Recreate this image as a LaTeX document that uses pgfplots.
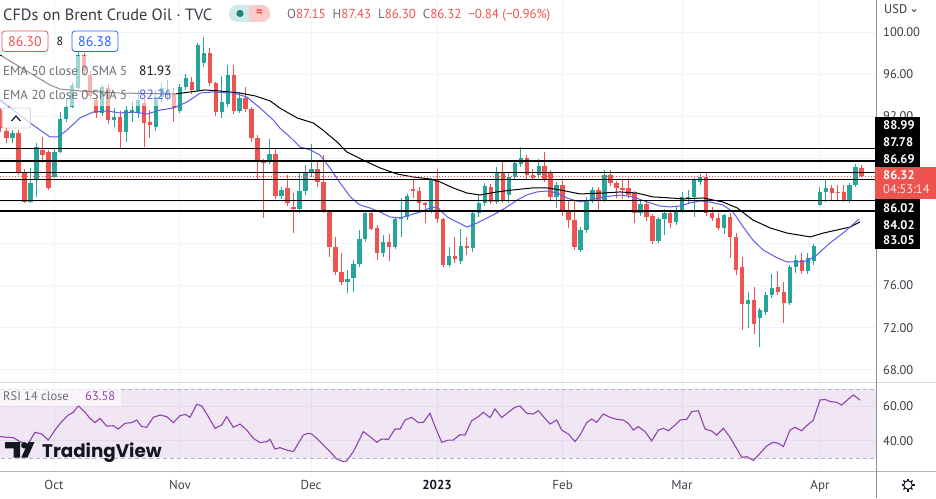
\documentclass[border=0pt]{standalone}
\usepackage{fontspec}
\setmainfont{PT Sans}
\newfontfamily\logofont{Poppins}
\usepackage{pgfplots}
\usepackage{pgfplotstable}
\pgfplotsset{compat=1.18}
\definecolor{upc}{HTML}{26A69A}
\definecolor{dnc}{HTML}{EF5350}
\definecolor{gridc}{HTML}{F0F3FA}
\definecolor{txt}{HTML}{131722}
\definecolor{gtxt}{HTML}{6A6D78}
\definecolor{emab}{RGB}{92,92,238}
\definecolor{bluet}{HTML}{2962FF}
\definecolor{rsic}{RGB}{142,68,173}
\definecolor{sepc}{HTML}{B2B5BE}

\pgfplotstableread{
i o h l c
-7 89.93 90.72 89.45 90.40
-4 83.93 87.09 83.80 85.67
-3 85.98 89.45 84.40 89.14
0 86.30 88.98 86.20 88.66
1 88.66 92.39 88.50 91.73
2 91.73 93.71 91.50 92.93
3 92.93 95.29 92.77 94.98
4 94.66 98.30 94.50 97.82
8 92.33 95.00 92.00 94.79
10 91.67 92.80 91.00 91.95
12 90.53 93.00 89.61 92.61
13 92.30 93.50 91.50 92.60
14 92.30 94.50 91.90 93.56
17 91.03 94.50 90.60 93.87
18 93.87 95.20 93.40 94.67
19 94.00 95.50 93.50 94.40
21 92.52 95.10 92.30 94.82
22 94.82 96.00 94.50 95.61
24 94.50 98.95 94.30 98.77
25 97.03 99.55 96.70 97.98
28 92.39 95.80 91.90 93.34
29 93.21 96.87 92.90 95.93
31 92.52 94.30 92.30 93.72
36 87.78 89.86 87.50 88.41
38 84.50 85.30 84.20 85.04
41 83.20 86.62 82.90 84.94
42 84.94 87.41 84.60 86.62
43 86.62 89.40 86.30 87.03
49 76.36 77.46 75.25 76.60
50 76.74 78.40 75.41 77.99
51 77.99 81.25 77.70 80.40
52 80.40 83.14 80.10 82.83
55 79.10 80.77 78.72 80.08
57 79.67 82.35 79.40 82.26
58 82.26 84.25 80.62 82.45
59 82.45 84.66 82.20 84.47
63 83.15 86.14 82.90 85.99
66 77.94 79.67 77.72 78.79
68 78.31 81.30 78.00 79.73
70 79.52 83.00 79.20 82.83
71 82.83 84.56 82.50 83.84
72 83.84 85.70 83.50 85.42
74 83.93 87.25 83.70 86.71
76 84.56 86.60 83.84 86.30
77 86.30 87.88 86.00 87.63
78 87.54 89.08 87.20 88.04
81 86.46 87.97 86.20 87.31
84 84.34 85.80 83.30 85.51
88 79.35 81.50 79.20 81.25
89 81.25 84.41 81.00 84.09
90 84.09 85.35 83.80 85.04
92 84.09 86.93 83.90 86.46
98 82.89 84.00 82.60 83.68
101 80.24 82.50 80.00 82.26
102 82.26 83.20 80.78 82.89
104 82.04 83.40 81.70 83.14
105 83.14 84.88 82.90 84.41
106 84.24 85.04 83.77 84.40
107 84.34 86.20 82.45 85.98
108 85.83 86.52 85.50 86.30
112 81.41 82.80 80.84 82.67
116 74.21 75.41 71.94 74.62
118 72.88 73.83 70.14 73.67
119 73.51 75.41 73.20 75.10
120 75.10 77.08 74.80 75.79
123 74.37 77.90 74.10 77.78
124 77.78 78.88 77.15 78.36
126 77.40 79.04 77.10 78.57
127 78.35 79.92 77.90 79.74
128 83.62 85.35 83.52 84.88
129 84.88 85.99 83.93 85.20
133 84.09 85.70 83.84 85.51
134 85.51 87.50 85.30 87.25
}\up

\pgfplotstableread{
i o h l c
-9 92.61 92.77 90.56 90.87
-8 90.62 91.03 89.45 89.93
-6 90.40 90.72 86.46 86.77
-5 86.77 87.00 83.77 83.87
-2 88.82 90.08 87.56 88.35
-1 88.66 88.82 85.03 85.19
5 97.82 98.00 95.80 96.30
6 95.90 96.30 93.60 93.90
7 93.60 94.00 91.90 92.30
9 94.70 95.10 91.30 91.67
11 91.95 92.50 89.00 90.53
15 93.30 93.70 89.10 91.35
16 91.50 92.60 90.00 91.20
20 94.19 94.70 91.50 92.77
23 95.29 95.70 94.10 94.50
26 97.98 98.50 94.90 95.14
27 95.14 95.30 92.00 92.39
30 95.93 96.87 92.20 92.52
32 93.72 94.80 92.40 92.71
33 92.71 92.90 89.60 89.99
34 89.99 90.20 86.00 87.78
35 87.78 88.00 82.42 87.65
37 88.41 88.98 84.20 84.50
39 85.19 86.50 83.50 83.77
40 83.46 84.72 80.93 83.20
44 87.03 87.88 85.35 85.83
45 85.83 88.35 82.83 82.99
46 82.99 83.10 78.72 79.60
47 79.60 80.62 76.99 77.30
48 77.30 79.04 76.04 76.36
53 82.83 82.99 81.25 81.34
54 81.41 81.72 78.41 79.10
56 80.08 80.87 78.31 79.67
60 85.10 85.98 84.25 84.97
61 84.97 85.35 82.99 83.78
62 83.78 83.90 81.94 83.68
64 85.99 86.99 81.88 82.26
65 82.26 82.40 77.78 77.94
67 78.79 80.62 78.16 78.47
69 79.73 80.62 78.88 79.52
73 85.35 85.60 83.70 83.93
75 86.71 87.88 83.80 84.03
79 88.04 88.35 86.08 86.46
80 86.46 86.99 85.98 86.20
82 87.31 88.67 85.80 86.05
83 86.62 86.90 84.00 84.34
85 85.51 86.14 82.60 82.92
86 82.92 84.09 81.40 82.20
87 82.20 84.09 79.40 79.67
91 85.04 85.30 83.14 84.09
93 86.46 86.93 85.40 85.73
94 85.73 85.90 84.25 85.20
95 85.20 86.05 84.15 85.04
96 85.20 86.14 84.30 84.56
97 84.72 84.90 81.88 82.89
99 83.68 83.90 82.10 82.45
100 82.57 82.80 79.90 80.24
103 82.89 83.10 81.40 81.94
109 86.30 86.77 82.60 82.83
110 82.83 83.46 82.10 82.42
111 82.42 82.89 81.25 81.41
113 82.45 82.83 78.57 80.62
114 80.62 80.94 76.99 77.46
115 77.70 78.66 71.78 74.21
117 74.62 75.88 71.40 72.35
121 75.88 77.40 75.10 75.35
122 75.35 76.36 72.41 74.37
125 78.41 79.04 77.10 77.40
130 85.20 85.51 84.09 84.72
131 84.88 85.51 84.09 84.79
132 84.88 85.51 83.90 84.09
135 87.15 87.43 86.30 86.32
}\dn

\begin{document}
\begin{tikzpicture}
\path[use as bounding box, fill=white] (0pt,0pt) rectangle (936pt,498pt);

% ---------------- price pane ----------------
\begin{axis}[at={(0pt,116pt)}, anchor=south west, scale only axis,
  width=876pt, height=382pt,
  xmin=-9.08, xmax=137.4, ymin=66.85, ymax=103.03,
  axis line style={draw=none}, major tick length=0pt,
  xtick={0,21,43,64,85,105,128}, ytick={68,72,...,100},
  xticklabels={}, yticklabels={},
  grid=major, major grid style={draw=gridc, line width=0.8pt}]
% wicks
\addplot[draw=none, mark=none, forget plot,
  error bars/.cd, y dir=both, y explicit, error mark=none,
  error bar style={draw=upc, line width=1pt}]
  table[x=i, y expr={(\thisrow{h}+\thisrow{l})/2}, y error expr={(\thisrow{h}-\thisrow{l})/2}] {\up};
\addplot[draw=none, mark=none, forget plot,
  error bars/.cd, y dir=both, y explicit, error mark=none,
  error bar style={draw=dnc, line width=1pt}]
  table[x=i, y expr={(\thisrow{h}+\thisrow{l})/2}, y error expr={(\thisrow{h}-\thisrow{l})/2}] {\dn};
% bodies
\addplot[draw=none, mark=none, forget plot,
  error bars/.cd, y dir=both, y explicit, error mark=none,
  error bar style={draw=upc, line width=4.4pt}]
  table[x=i, y expr={(\thisrow{o}+\thisrow{c})/2}, y error expr={max(abs(\thisrow{c}-\thisrow{o})/2,0.05)}] {\up};
\addplot[draw=none, mark=none, forget plot,
  error bars/.cd, y dir=both, y explicit, error mark=none,
  error bar style={draw=dnc, line width=4.4pt}]
  table[x=i, y expr={(\thisrow{o}+\thisrow{c})/2}, y error expr={max(abs(\thisrow{c}-\thisrow{o})/2,0.05)}] {\dn};
% EMA 50
\addplot[black, line width=1pt] coordinates {
(-9.08,97.82) (-4.90,96.40) (-0.72,94.98) (0.95,94.60) (4.29,94.41) (11.0,94.22) (20.2,94.13)
(22.7,94.32) (25.2,94.51) (27.7,94.41) (31.0,94.22) (33.6,93.94) (36.1,93.47) (37.7,92.80)
(40.6,91.86) (43.3,91.38) (44.9,90.72) (47.3,89.58) (48.9,88.64) (52.3,87.69) (54.5,87.12)
(57.3,86.55) (60.0,86.27) (62.8,86.08) (64.5,85.80) (66.7,85.23) (69.0,84.75) (71.2,84.56)
(74.0,84.85) (76.7,85.04) (80.0,85.23) (82.4,85.23) (84.6,85.04) (87.9,84.66) (91.8,84.75)
(94.6,84.85) (97.4,84.75) (100.1,84.38) (103.0,84.28) (105.1,84.19) (108.5,84.28) (111.8,83.90)
(114.2,83.33) (116.8,82.20) (119.7,81.44) (122.5,80.96) (126.4,80.59) (128.6,80.96) (130.9,81.25)
(133.1,81.53) (134.7,82.01)};
% EMA 20
\addplot[emab, line width=1pt] coordinates {
(-9.08,93.56) (-6.24,92.33) (-3.56,91.19) (-0.72,90.06) (0.62,90.06) (2.13,90.72) (4.3,91.86)
(6.5,92.42) (8.8,92.52) (11.0,92.33) (13.2,92.42) (15.5,92.23) (17.7,92.61) (19.9,92.80)
(22.2,93.37) (24.4,94.22) (26.5,94.32) (29.9,94.22) (32.2,93.84) (34.4,92.80) (36.6,91.67)
(37.7,90.91) (39.4,90.06) (41.1,89.11) (42.8,88.83) (44.4,88.35) (46.1,87.12) (47.8,85.70)
(49.5,84.38) (51.1,83.62) (52.8,83.33) (54.5,82.95) (56.1,82.48) (57.8,82.39) (59.5,82.67)
(61.2,82.95) (62.8,83.33) (64.0,83.43) (65.7,82.48) (67.3,82.01) (69.0,81.53) (70.7,81.91)
(72.4,82.39) (74.0,82.86) (75.7,83.43) (77.4,84.09) (79.0,84.56) (80.7,84.85) (82.4,84.94)
(84.1,84.75) (85.7,84.28) (87.9,83.90) (89.6,84.09) (91.8,84.38) (94.6,84.56) (96.8,84.38)
(99.1,83.90) (101.3,83.52) (103.0,83.43) (104.6,83.52) (106.3,83.81) (108.0,84.00) (109.6,83.90)
(111.8,83.62) (113.5,82.95) (115.2,81.53) (116.8,80.30) (118.5,79.36) (120.9,78.60) (122.5,78.22)
(124.2,78.22) (125.9,78.31) (127.5,78.88) (129.7,80.02) (131.9,80.96) (134.6,82.29)};
% horizontal levels
\addplot[black, line width=1.3pt] coordinates {(-10,88.99) (140,88.99)};
\addplot[black, line width=1.3pt] coordinates {(-10,87.78) (140,87.78)};
\addplot[black, line width=1.3pt] coordinates {(-10,86.69) (140,86.69)};
\addplot[black, line width=1.3pt] coordinates {(-10,86.02) (140,86.02)};
\addplot[black, line width=1.3pt] coordinates {(-10,84.02) (140,84.02)};
\addplot[black, line width=1.3pt] coordinates {(-10,83.05) (140,83.05)};
\addplot[dnc, line width=0.8pt, dash pattern=on 1pt off 2pt] coordinates {(-10,86.32) (140,86.32)};
\end{axis}

% ---------------- RSI pane ----------------
\begin{axis}[at={(0pt,27pt)}, anchor=south west, scale only axis,
  width=876pt, height=88pt,
  xmin=-9.08, xmax=137.4, ymin=22.46, ymax=73.48,
  axis line style={draw=none}, major tick length=0pt,
  xtick={0,21,43,64,85,105,128}, ytick={40,60},
  xticklabels={}, yticklabels={},
  grid=major, major grid style={draw=gridc, line width=0.8pt}]
\addplot[draw=none, fill=rsic, fill opacity=0.13, forget plot] coordinates {(-10,30) (140,30) (140,70) (-10,70)};
\addplot[sepc, line width=0.8pt, dash pattern=on 4pt off 3pt] coordinates {(-10,70) (140,70)};
\addplot[sepc, line width=0.8pt, dash pattern=on 4pt off 3pt] coordinates {(-10,30) (140,30)};
\addplot[rsic, line width=1.1pt] coordinates {
(-9.08,42.4) (-7.97,42.0) (-6.85,41.8) (-5.74,39.5) (-4.5,37.5) (-3.23,44.9) (-2.11,43.9) (-1.0,40.4)
(0.12,46.2) (1.23,51.1) (2.35,54.9) (3.18,56.5) (4.02,60.3) (5.13,56.5) (5.97,53.0) (6.81,50.5)
(7.64,53.0) (8.76,48.5) (9.87,48.7) (10.71,46.8) (11.82,50.1) (12.94,50.5) (13.77,52.0) (14.61,48.2)
(15.45,47.8) (16.56,53.6) (17.68,54.9) (18.79,54.0) (19.91,50.5) (21.02,54.5) (21.86,55.3) (22.69,53.6)
(23.81,61.1) (24.64,60.2) (25.76,54.0) (26.87,47.2) (27.99,49.1) (28.82,54.0) (29.94,47.8) (31.05,49.7)
(32.17,46.2) (33.28,41.4) (34.4,38.9) (35.51,39.5) (36.07,40.8) (36.9,35.2) (37.74,36.0) (38.86,34.6)
(39.97,33.7) (41.64,43.3) (42.48,44.3) (43.04,43.9) (43.87,41.4) (44.99,37.5) (46.1,33.7) (47.22,29.4)
(48.33,27.9) (48.89,28.3) (50.0,33.7) (51.68,45.3) (52.79,42.4) (53.91,39.1) (54.74,41.0) (55.86,40.8)
(56.97,46.8) (57.81,46.8) (58.64,52.0) (59.76,53.6) (60.87,50.5) (61.71,50.7) (62.83,55.9) (63.66,48.2)
(64.78,39.1) (65.89,40.4) (66.73,40.4) (67.84,43.5) (68.68,43.3) (69.79,51.6) (70.91,54.0) (71.74,56.5)
(72.86,53.4) (73.69,58.4) (74.81,53.4) (75.92,56.5) (77.04,59.4) (77.87,60.2) (78.99,55.9) (80.1,55.5)
(80.94,57.4) (81.78,54.0) (82.89,49.7) (84.0,52.0) (84.84,46.2) (85.96,43.9) (87.07,39.5) (87.91,43.3)
(89.02,50.5) (89.86,52.6) (90.69,50.7) (91.81,55.5) (92.92,53.6) (94.04,52.4) (95.15,52.0) (95.99,50.1)
(96.83,46.2) (97.66,48.2) (98.78,45.3) (99.89,39.9) (101.01,46.2) (101.84,47.2) (102.68,45.8) (103.79,49.1)
(104.63,52.0) (105.74,52.4) (106.58,56.9) (107.7,57.4) (108.81,46.8) (109.93,45.6) (110.76,43.3) (111.88,47.2)
(112.99,42.0) (113.83,37.1) (114.94,30.4) (115.78,30.8) (116.89,28.5) (118.01,32.7) (119.12,37.0) (120.24,39.1)
(121.07,38.5) (121.91,36.6) (123.02,46.2) (123.86,47.8) (124.97,45.8) (125.81,48.7) (126.93,52.0) (128.04,63.6)
(128.88,64.0) (129.71,62.7) (130.83,62.3) (131.66,60.7) (132.78,64.2) (133.62,66.5) (134.73,63.6)};
\end{axis}

% ---------------- overlays (pixel coordinates, y downwards) ----------------
\begin{scope}[shift={(0pt,498pt)}, x=1pt, y=-1pt]
% separators
\draw[color=gridc!60!sepc, line width=1pt] (0,382) -- (936,382);
\draw[color=sepc, line width=1pt] (0,471) -- (936,471);
\draw[color=sepc!80!black, line width=1pt] (876,0) -- (876,498);
% legend fade
\fill[white, opacity=0.55] (0,56) rectangle (176,106);
% title row
\node[anchor=base west, inner sep=0pt, text=txt!85, font=\fontsize{16.3}{18}\selectfont] at (3,20.5) {CFDs on Brent Crude Oil · TVC};
\fill[upc!22, rounded corners=8pt] (229,5) rectangle (258,22);
\fill[dnc!30, rounded corners=8pt] (245,5) rectangle (270,22);
\fill[upc!22] (240,5) rectangle (249,22);
\fill[upc!80!black] (240,13.5) circle (3.6);
\node[anchor=center, inner sep=0pt, text=dnc, font=\fontsize{13}{14}\selectfont\bfseries] at (259.5,13) {≈};
\node[anchor=base west, inner sep=0pt, font=\fontsize{13}{15}\selectfont] at (287,19)
 {\textcolor{gtxt}{O}\textcolor{dnc}{87.15}\ \ \textcolor{gtxt}{H}\textcolor{dnc}{87.43}\ \ \textcolor{gtxt}{L}\textcolor{dnc}{86.30}\ \ \textcolor{gtxt}{C}\textcolor{dnc}{86.32}\ \ \textcolor{dnc}{−0.84 (−0.96\%)}};
% bid/ask row
\draw[dnc, line width=0.8pt, rounded corners=3pt, fill=white] (2,31) rectangle (48,51.5);
\node[anchor=base, inner sep=0pt, text=dnc, font=\fontsize{14}{15}\selectfont] at (25,46.5) {86.30};
\node[anchor=base, inner sep=0pt, text=txt, font=\fontsize{12}{14}\selectfont] at (60,45.5) {8};
\draw[bluet, line width=0.8pt, rounded corners=3pt, fill=white] (72,31) rectangle (118,51.5);
\node[anchor=base, inner sep=0pt, text=bluet, font=\fontsize{14}{15}\selectfont] at (95,46.5) {86.38};
% EMA legend rows
\node[anchor=base west, inner sep=0pt, text=gtxt, font=\fontsize{13}{15}\selectfont] at (3,76) {EMA 50 close 0 SMA 5};
\node[anchor=base west, inner sep=0pt, text=txt, font=\fontsize{13.5}{15}\selectfont] at (139,76) {81.93};
\node[anchor=base west, inner sep=0pt, text=gtxt, font=\fontsize{13}{15}\selectfont] at (3,100) {EMA 20 close 0 SMA 5};
\node[anchor=base west, inner sep=0pt, text=emab, font=\fontsize{13.5}{15}\selectfont] at (139,100) {82.26};
% collapse button
\draw[gtxt!30, line width=0.8pt, rounded corners=2pt, fill=white, fill opacity=0.7] (2,108) rectangle (30.5,128);
\draw[txt, line width=1.2pt] (11.5,121) -- (16,116) -- (20.5,121);
% RSI label
\fill[white, opacity=0.6] (0,388) rectangle (121,406);
\node[anchor=base west, inner sep=0pt, text=gtxt, font=\fontsize{12.5}{14}\selectfont] at (3,400.7) {RSI 14 close};
\node[anchor=base west, inner sep=0pt, text=rsic, font=\fontsize{12.5}{14}\selectfont] at (85,400.7) {63.58};
% TradingView logo
\fill[txt] (5,442) -- (20,442) -- (20,457.5) -- (13.5,457.5) -- (13.5,448.3) -- (5,448.3) -- cycle;
\fill[txt] (24.3,445.3) circle (3.2);
\fill[txt] (28.3,442) -- (34.5,442) -- (27.5,457.5) -- (21.3,457.5) -- cycle;
\node[anchor=base west, inner sep=0pt, text=txt, font=\logofont\fontsize{18.3}{20}\selectfont\bfseries] at (42,457.3) {TradingView};
% month labels
\foreach \xx/\lab in {54/Oct,180/Nov,311/Dec,562.6/Feb,682/Mar,820/Apr}
  \node[anchor=base, inner sep=0pt, text=txt!80, font=\fontsize{13}{14}\selectfont] at (\xx,489.3) {\lab};
\node[anchor=base, inner sep=0pt, text=txt, font=\fontsize{13}{14}\selectfont\bfseries] at (437,489.3) {2023};
% gear
\draw[txt, line width=1pt] (908,485) circle (4.3);
\foreach \a in {0,45,...,315} \draw[txt, line width=1.3pt] (908,485) ++(\a:4.3) -- ++(\a:2.2);
% price scale
\node[anchor=base west, inner sep=0pt, text=txt!85, font=\fontsize{12.5}{14}\selectfont] at (884,14) {USD};
\draw[txt!85, line width=0.8pt] (912,9.5) -- (914,11.5) -- (916,9.5);
\foreach \yy/\lab in {32/100.00,74.2/96.00,116.5/92.00,285.4/76.00,327.7/72.00,370/68.00,406.3/60.00,440.8/40.00}
  \node[anchor=base west, inner sep=0pt, text=txt!85, font=\fontsize{12.5}{14}\selectfont] at (883,\yy+4.5) {\lab};
% level labels
\fill[black] (875,117.3) rectangle (920,167.4);
\fill[black] (875,199.5) rectangle (920,249.3);
\fill[dnc] (875,167.4) rectangle (936,199.5);
\foreach \yy/\lab in {130/88.99,146.7/87.78,163.3/86.69,212.3/86.02,229.3/84.02,245/83.05}
  \node[anchor=base west, inner sep=0pt, text=white, font=\fontsize{12.5}{14}\selectfont\bfseries] at (883,\yy) {\lab};
\node[anchor=base west, inner sep=0pt, text=white, font=\fontsize{12.5}{14}\selectfont\bfseries] at (883,180) {86.32};
\node[anchor=base west, inner sep=0pt, text=white!85!dnc, font=\fontsize{12.5}{14}\selectfont] at (883,194) {04:53:14};
\end{scope}
\end{tikzpicture}
\end{document}
